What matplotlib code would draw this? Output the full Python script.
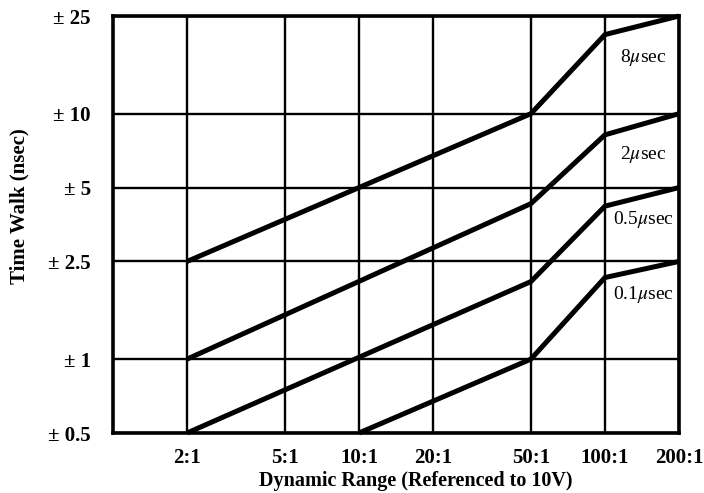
import matplotlib
matplotlib.use("Agg")
import matplotlib.pyplot as plt

plt.rcParams['font.family'] = ['Liberation Serif', 'DejaVu Serif']
plt.rcParams['mathtext.fontset'] = 'stix'

# dynamic range (x) and time walk in nsec (y) for each shaping time
x_ticks = [2, 5, 10, 20, 50, 100, 200]
x_labels = ["2:1", "5:1", "10:1", "20:1", "50:1", "100:1", "200:1"]
y_ticks = [0.5, 1, 2.5, 5, 10, 25]
y_labels = ["± 0.5", "± 1", "± 2.5", "± 5", "± 10", "± 25"]

x_8us = [2, 50, 100, 200]
y_8us = [2.5, 10, 21, 25]
x_2us = [2, 50, 100, 200]
y_2us = [1, 4.3, 8.2, 10]
x_05us = [2, 50, 100, 200]
y_05us = [0.5, 2.07, 4.2, 5]
x_01us = [10, 50, 100, 200]
y_01us = [0.5, 1, 2.15, 2.5]

curve_names = ["8$\\mu$sec", "2$\\mu$sec", "0.5$\\mu$sec", "0.1$\\mu$sec"]
name_pos = [(143, 17.0), (143, 6.8), (143, 3.7), (143, 1.83)]

fig = plt.figure(figsize=(7.04, 4.93), dpi=100)
ax = fig.add_axes([0.1605, 0.1217, 0.804, 0.8458])
ax.set_xscale('log')
ax.set_yscale('log')
ax.set_xlim(1, 200)
ax.set_ylim(0.5, 25)

# grid drawn by hand so it sits under the curves
for xv in x_ticks:
    ax.axvline(xv, color='black', lw=1.7, zorder=1)
for yv in y_ticks:
    ax.axhline(yv, color='black', lw=1.7, zorder=1)

for xs, ys in [(x_8us, y_8us), (x_2us, y_2us), (x_05us, y_05us), (x_01us, y_01us)]:
    ax.plot(xs, ys, color='black', lw=3.6, solid_joinstyle='miter',
            solid_capstyle='butt', clip_on=False, zorder=3)

for name, (tx, ty) in zip(curve_names, name_pos):
    ax.text(tx, ty, name, fontsize=14, ha='center', va='center', zorder=4)

ax.set_xticks(x_ticks)
ax.set_xticklabels(x_labels)
ax.set_yticks(y_ticks)
ax.set_yticklabels(y_labels)
ax.minorticks_off()
ax.tick_params(axis='x', length=0, labelsize=15, pad=11)
ax.tick_params(axis='y', length=0, labelsize=15, pad=16)
for lab in ax.get_xticklabels() + ax.get_yticklabels():
    lab.set_fontweight('bold')

for sp in ax.spines.values():
    sp.set_linewidth(2.6)

ax.set_xlabel("Dynamic Range (Referenced to 10V)", fontsize=14.5,
              fontweight='bold')
ax.set_ylabel("Time Walk (nsec)", fontsize=15, fontweight='bold')
# labels are a bit off-centre in the original
ax.xaxis.set_label_coords(0.535, -0.092)
ax.yaxis.set_label_coords(-0.147, 0.544)

fig.savefig("out.png", dpi=100)
